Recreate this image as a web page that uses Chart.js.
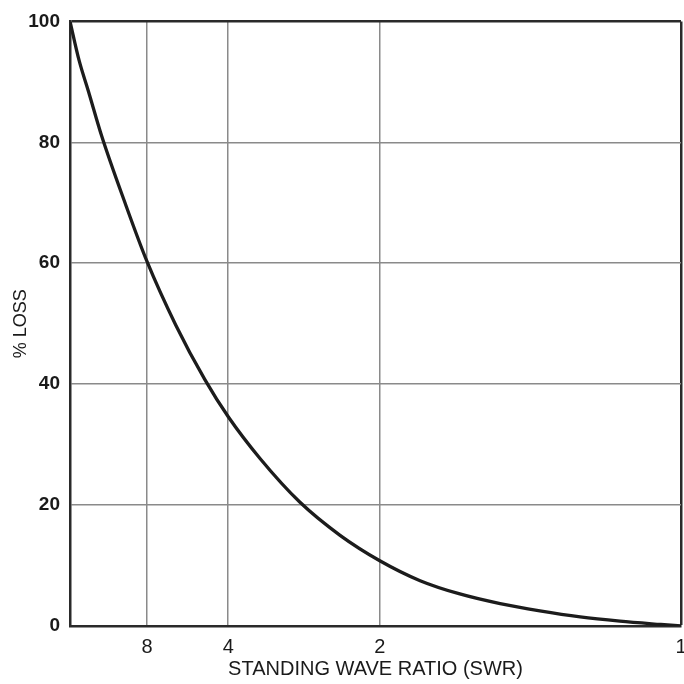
<!DOCTYPE html>
<html>
<head>
<meta charset="utf-8">
<script src="https://cdn.jsdelivr.net/npm/chart.js@4/dist/chart.umd.min.js"></script>
<style>
  html, body { margin: 0; padding: 0; background: #fff; }
</style>
</head>
<body>
<canvas id="lossChart" width="684" height="684"></canvas>
<script>
// x runs from infinite SWR (left) to SWR 1 (right), read as fraction of the width
const xPos = [0, 0.015, 0.03, 0.052, 0.09, 0.126, 0.173, 0.221, 0.259, 0.311,
              0.376, 0.442, 0.507, 0.573, 0.638, 0.704, 0.769, 0.835, 0.9, 0.967, 1.0];
const lossPct = [100, 93.5, 88.5, 81, 70, 60.3, 49.8, 40.7, 34.6, 27.7,
                 20.5, 15.0, 10.8, 7.5, 5.3, 3.7, 2.5, 1.5, 0.8, 0.25, 0];

const swrTickPos = [0.126, 0.259, 0.507, 1.0];
const swrTickLabels = ['8', '4', '2', '1'];
const lossTicks = [0, 20, 40, 60, 80, 100];

const points = xPos.map((x, i) => ({ x: x, y: lossPct[i] }));

new Chart(document.getElementById('lossChart'), {
    type: 'line',
    data: {
        datasets: [{
            label: '% loss',
            data: points,
            borderColor: '#1c1c1c',
            borderWidth: 3.3,
            pointRadius: 0,
            cubicInterpolationMode: 'monotone',
            fill: false
        }]
    },
    options: {
        responsive: false,
        animation: false,
        layout: {
            padding: { top: 21, right: 3, left: 0, bottom: 0 }
        },
        plugins: {
            legend: { display: false },
            tooltip: { enabled: false }
        },
        scales: {
            x: {
                type: 'linear',
                min: 0,
                max: 1,
                afterBuildTicks: (scale) => {
                    scale.ticks = swrTickPos.map(v => ({ value: v }));
                },
                afterFit: (scale) => {
                    scale.height = 58;
                    // the "1" sits right on the frame edge, as in the original
                    scale.paddingRight = 0;
                    scale.paddingLeft = 0;
                },
                border: { display: true, color: '#2a2a2a', width: 2.5 },
                grid: {
                    drawTicks: false,
                    color: (ctx) => ctx.tick && ctx.tick.value === 1 ? '#2a2a2a' : '#8a8a8a',
                    lineWidth: (ctx) => ctx.tick && ctx.tick.value === 1 ? 2.5 : 1.5
                },
                ticks: {
                    padding: 9,
                    color: '#1a1a1a',
                    maxRotation: 0,
                    autoSkip: false,
                    font: { family: 'Liberation Sans', size: 20 },
                    callback: (value) => {
                        const i = swrTickPos.indexOf(value);
                        return i >= 0 ? swrTickLabels[i] : '';
                    }
                },
                title: {
                    display: true,
                    text: 'STANDING WAVE RATIO (SWR)',
                    color: '#1a1a1a',
                    padding: { top: 0, bottom: 3 },
                    font: { family: 'Liberation Sans', size: 20 }
                }
            },
            y: {
                min: 0,
                max: 100,
                afterBuildTicks: (scale) => {
                    scale.ticks = lossTicks.map(v => ({ value: v }));
                },
                afterFit: (scale) => { scale.width = 70; },
                border: { display: true, color: '#2a2a2a', width: 2.5 },
                grid: {
                    drawTicks: false,
                    color: (ctx) => ctx.tick && ctx.tick.value === 100 ? '#2a2a2a' : '#8a8a8a',
                    lineWidth: (ctx) => ctx.tick && ctx.tick.value === 100 ? 2.5 : 1.5
                },
                ticks: {
                    padding: 10,
                    color: '#1a1a1a',
                    font: { family: 'Liberation Sans', size: 19, weight: 'bold' }
                },
                title: {
                    display: true,
                    text: '% LOSS',
                    color: '#1a1a1a',
                    padding: { top: 10, bottom: 0 },
                    font: { family: 'Liberation Sans', size: 18 }
                }
            }
        }
    }
});
</script>
</body>
</html>
